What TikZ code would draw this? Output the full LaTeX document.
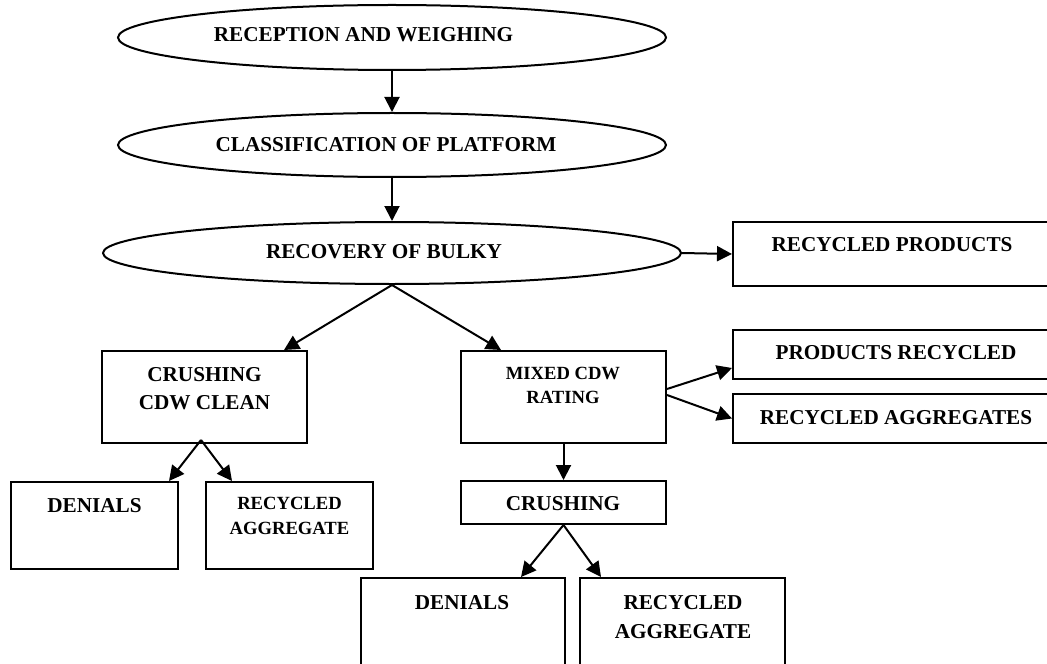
\documentclass[tikz,border=0pt]{standalone}
\usepackage{fontspec}
\setmainfont{Liberation Serif}
\usepackage{tikz}
\usetikzlibrary{arrows.meta, shapes.geometric}

\begin{document}
\begin{tikzpicture}[
    x=0.5pt, y=-0.5pt,
    arrow/.style={-{Triangle[length=7.5pt, width=7.5pt]}, line width=1pt},
    stage/.style={draw, ellipse, line width=1pt, inner sep=0pt},
    box/.style={draw, rectangle, line width=1pt, inner sep=0pt},
    caption/.style={inner sep=0pt, align=center, font=\fontsize{10.6}{14}\selectfont\bfseries},
    smallcaption/.style={inner sep=0pt, align=center, font=\fontsize{9.3}{12.25}\selectfont\bfseries}
]
    \useasboundingbox (0,0) rectangle (1047,663);
    \clip (0,0) rectangle (1047,663);

    % === Main line ===
    \node[stage, minimum width=274pt, minimum height=32.5pt] (reception) at (392,37.5) {};
    \node[caption] (receptiontext) at (363.5,35) {RECEPTION AND WEIGHING};

    \node[stage, minimum width=274pt, minimum height=32pt] (classification) at (392,145) {};
    \node[caption] (classificationtext) at (386,145) {CLASSIFICATION OF PLATFORM};

    \node[stage, minimum width=289pt, minimum height=31pt] (recovery) at (392,253) {};
    \node[caption] (recoverytext) at (384,252) {RECOVERY OF BULKY};

    % === Right outputs ===
    \node[box, minimum width=162.5pt, minimum height=32pt] (recprod) at (895.5,254) {};
    \node[caption] (recprodtext) at (892,245) {RECYCLED PRODUCTS};

    \node[box, minimum width=162.5pt, minimum height=24.5pt] (prodrec) at (895.5,354.5) {};
    \node[caption] (prodrectext) at (896,353) {PRODUCTS RECYCLED};

    \node[box, minimum width=162.5pt, minimum height=24.5pt] (recaggs) at (895.5,418.5) {};
    \node[caption] (recaggstext) at (896,418) {RECYCLED AGGREGATES};

    % === Clean branch ===
    \node[box, minimum width=102.5pt, minimum height=46pt] (clean) at (204.5,397) {};
    \node[caption] (cleantext) at (204.5,389) {CRUSHING\\CDW CLEAN};

    \node[box, minimum width=83.5pt, minimum height=43.5pt] (denialsA) at (94.5,525.5) {};
    \node[caption] (denialsAtext) at (94.5,506) {DENIALS};

    \node[box, minimum width=83.5pt, minimum height=43.5pt] (aggA) at (289.5,525.5) {};
    \node[smallcaption] (aggAtext) at (289.5,516) {RECYCLED\\AGGREGATE};

    % === Mixed branch ===
    \node[box, minimum width=102.5pt, minimum height=46pt] (mixed) at (563.5,397) {};
    \node[smallcaption] (mixedtext) at (563,385.5) {MIXED CDW\\RATING};

    \node[box, minimum width=102.5pt, minimum height=21.5pt] (crushing) at (563.5,502.5) {};
    \node[caption] (crushingtext) at (563,504) {CRUSHING};

    \node[box, minimum width=102pt, minimum height=46pt] (denialsB) at (463,624) {};
    \node[caption] (denialsBtext) at (462,603) {DENIALS};

    \node[box, minimum width=102.5pt, minimum height=46pt] (aggB) at (682.5,624) {};
    \node[caption, font=\fontsize{10.6}{14.5}\selectfont\bfseries] (aggBtext) at (683,617.5) {RECYCLED\\AGGREGATE};

    % === Connectors ===
    \draw[arrow] (reception.south) -- (classification.north);
    \draw[arrow] (classification.south) -- (recovery.north);
    \draw[arrow] (recovery.east) -- (recprod.west);
    \draw[arrow] (recovery.south) -- ([xshift=-12pt]clean.north east);
    \draw[arrow] (recovery.south) -- ([xshift=20.5pt]mixed.north west);

    \draw[arrow] ([yshift=4pt]mixed.east) -- ([yshift=-6.75pt]prodrec.west);
    \draw[arrow] ([yshift=1pt]mixed.east) -- (recaggs.west);
    \draw[arrow] (mixed.south) -- (crushing.north);

    \draw[arrow] ([xshift=-1.75pt, yshift=2pt]clean.south) -- ([xshift=-5pt]denialsA.north east);
    \draw[arrow] ([xshift=-1.75pt, yshift=2pt]clean.south) -- ([xshift=13.5pt]aggA.north west);

    \draw[arrow] (crushing.south) -- ([xshift=-22.5pt]denialsB.north east);
    \draw[arrow] (crushing.south) -- ([xshift=11pt]aggB.north west);
\end{tikzpicture}
\end{document}
